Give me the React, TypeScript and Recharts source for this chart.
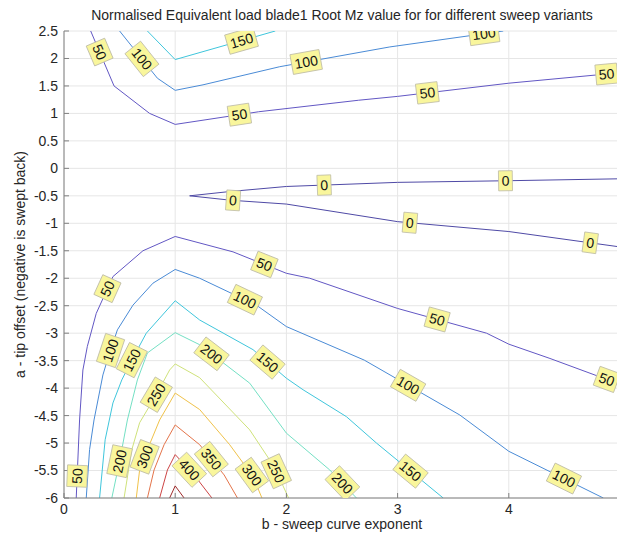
import {
  CartesianGrid, ComposedChart, Label, Line, Scatter, XAxis, YAxis,
} from "recharts";

type Pt = { x: number; y: number };

const pts = (rows: number[][]): Pt[] => rows.map(([x, y]) => ({ x, y }));

// axis ticks
const X_TICKS = [0, 1, 2, 3, 4];
const Y_TICKS = [2.5, 2, 1.5, 1, 0.5, 0, -0.5, -1, -1.5, -2, -2.5, -3, -3.5, -4, -4.5, -5, -5.5, -6];

// contour paths, (b, a) pairs
const c0 = pts([[5, -0.19], [4, -0.225], [3, -0.255], [2, -0.33], [1.5, -0.42], [1.13, -0.5],
  [1.5, -0.58], [2, -0.65], [3, -0.97], [4, -1.15], [5, -1.43]]);
const c50Upper = pts([[0.24, 2.5], [0.45, 1.5], [0.77, 1.0], [1, 0.8], [1.75, 1.03], [2.65, 1.24],
  [3, 1.31], [4, 1.55], [5, 1.74]]);
const c100Upper = pts([[0.5, 2.5], [0.84, 1.64], [1, 1.42], [1.25, 1.52], [1.94, 1.85], [2.93, 2.21], [3.95, 2.5]]);
const c150Upper = pts([[0.75, 2.5], [1, 1.98], [1.9, 2.5]]);
const c50Lower = pts([[0.11, -6], [0.14, -4.58], [0.17, -3.67], [0.21, -3.24], [0.29, -2.64], [0.44, -1.97],
  [0.71, -1.5], [1, -1.24], [1.52, -1.52], [2, -1.91], [2.21, -2.0], [3, -2.55], [3.8, -3.0], [4, -3.2],
  [4.37, -3.46], [5, -3.93]]);
const c100Lower = pts([[0.2, -6], [0.23, -5.12], [0.27, -4.58], [0.35, -3.76], [0.39, -3.49], [0.48, -2.94],
  [0.62, -2.49], [0.8, -2.09], [1, -1.84], [1.22, -2.0], [1.73, -2.49], [2, -2.88], [2.7, -3.49],
  [3.56, -4.49], [4, -5.15], [4.85, -6]]);
const c150Lower = pts([[0.32, -6], [0.37, -4.94], [0.44, -4.27], [0.52, -3.85], [0.61, -3.49], [0.74, -3.0],
  [1, -2.41], [1.22, -2.76], [1.7, -3.3], [2, -3.82], [2.15, -4.03], [2.54, -4.52], [2.81, -5.0], [3.41, -6]]);
const c200 = pts([[0.43, -6], [0.5, -5.33], [0.57, -4.58], [0.66, -3.85], [0.75, -3.36], [1, -2.99],
  [1.22, -3.21], [1.67, -3.91], [2, -4.82], [2.39, -5.49], [2.63, -6]]);
const c250 = pts([[0.54, -6], [0.61, -5.12], [0.68, -4.63], [0.83, -4.12], [0.95, -3.67], [1, -3.56],
  [1.22, -3.81], [1.67, -4.76], [1.89, -5.43], [2.02, -6]]);
const c300 = pts([[0.65, -6], [0.68, -5.49], [0.75, -5.12], [0.86, -4.58], [1, -4.09], [1.22, -4.39],
  [1.49, -5.03], [1.7, -5.61], [1.78, -6]]);
const c350 = pts([[0.75, -6], [0.81, -5.49], [0.9, -5.03], [1, -4.67], [1.22, -5.03], [1.44, -5.58], [1.56, -6]]);
const c400 = pts([[0.86, -6], [0.93, -5.49], [1, -5.21], [1.17, -5.58], [1.33, -6]]);
const c450 = pts([[0.95, -6], [1, -5.78], [1.08, -6]]);

const LEVEL_COLORS: Record<number, string> = {
  0: "#4f4aa6",
  50: "#6257c4",
  100: "#4a8bd6",
  150: "#3fc6dc",
  200: "#74e0c4",
  250: "#cfe27a",
  300: "#f0c24a",
  350: "#e4744a",
  400: "#cc4444",
  450: "#9e2b2b",
};

const contours: { key: string; level: number; points: Pt[] }[] = [
  { key: "c0", level: 0, points: c0 },
  { key: "c50Upper", level: 50, points: c50Upper },
  { key: "c100Upper", level: 100, points: c100Upper },
  { key: "c150Upper", level: 150, points: c150Upper },
  { key: "c50Lower", level: 50, points: c50Lower },
  { key: "c100Lower", level: 100, points: c100Lower },
  { key: "c150Lower", level: 150, points: c150Lower },
  { key: "c200", level: 200, points: c200 },
  { key: "c250", level: 250, points: c250 },
  { key: "c300", level: 300, points: c300 },
  { key: "c350", level: 350, points: c350 },
  { key: "c400", level: 400, points: c400 },
  { key: "c450", level: 450, points: c450 },
];

// clabel spots (approximate, snapped onto their contour below)
const labelSpots: { key: string; x: number; y: number }[] = [
  { key: "c50Upper", x: 0.29, y: 2.09 },
  { key: "c50Upper", x: 1.58, y: 0.94 },
  { key: "c50Upper", x: 3.27, y: 1.33 },
  { key: "c50Upper", x: 4.88, y: 1.7 },
  { key: "c100Upper", x: 0.65, y: 1.91 },
  { key: "c100Upper", x: 2.18, y: 1.91 },
  { key: "c100Upper", x: 3.78, y: 2.4 },
  { key: "c150Upper", x: 1.6, y: 2.3 },
  { key: "c0", x: 1.52, y: -0.6 },
  { key: "c0", x: 2.34, y: -0.33 },
  { key: "c0", x: 3.97, y: -0.22 },
  { key: "c0", x: 3.11, y: -1.01 },
  { key: "c0", x: 4.73, y: -1.39 },
  { key: "c50Lower", x: 0.38, y: -2.18 },
  { key: "c50Lower", x: 1.8, y: -1.76 },
  { key: "c50Lower", x: 3.35, y: -2.79 },
  { key: "c50Lower", x: 4.88, y: -3.85 },
  { key: "c50Lower", x: 0.11, y: -5.6 },
  { key: "c100Lower", x: 0.44, y: -3.33 },
  { key: "c100Lower", x: 1.62, y: -2.42 },
  { key: "c100Lower", x: 3.08, y: -4.0 },
  { key: "c100Lower", x: 4.49, y: -5.67 },
  { key: "c150Lower", x: 0.6, y: -3.48 },
  { key: "c150Lower", x: 1.85, y: -3.48 },
  { key: "c150Lower", x: 3.08, y: -5.6 },
  { key: "c200", x: 1.31, y: -3.42 },
  { key: "c200", x: 0.5, y: -5.33 },
  { key: "c200", x: 2.52, y: -5.7 },
  { key: "c250", x: 0.83, y: -4.12 },
  { key: "c250", x: 1.88, y: -5.54 },
  { key: "c300", x: 0.75, y: -5.27 },
  { key: "c300", x: 1.65, y: -5.64 },
  { key: "c350", x: 1.32, y: -5.3 },
  { key: "c400", x: 1.13, y: -5.48 },
];

const FONT = '"Liberation Sans", Arial, Helvetica, sans-serif';
const TEXT = "#262626";
const CHART_W = 640;
const CHART_H = 536;
const MARGIN = { top: 31, right: 20, bottom: 8, left: 0 };
const Y_AXIS_W = 64;
const X_AXIS_H = 30;
const X_DOMAIN: [number, number] = [0, 5];
const Y_DOMAIN: [number, number] = [-6, 2.5];

// pixels per data unit, used to orient the labels along their lines
const KX = (CHART_W - MARGIN.left - MARGIN.right - Y_AXIS_W) / (X_DOMAIN[1] - X_DOMAIN[0]);
const KY = (CHART_H - MARGIN.top - MARGIN.bottom - X_AXIS_H) / (Y_DOMAIN[1] - Y_DOMAIN[0]);

function snapToContour(points: Pt[], x: number, y: number) {
  const px = x * KX;
  const py = -y * KY;
  let best = { d: Infinity, x, y, angle: 0 };
  for (let i = 0; i < points.length - 1; i++) {
    const ax = points[i].x * KX, ay = -points[i].y * KY;
    const bx = points[i + 1].x * KX, by = -points[i + 1].y * KY;
    const dx = bx - ax, dy = by - ay;
    const len2 = dx * dx + dy * dy || 1;
    const t = Math.max(0, Math.min(1, ((px - ax) * dx + (py - ay) * dy) / len2));
    const qx = ax + t * dx, qy = ay + t * dy;
    const d = Math.hypot(px - qx, py - qy);
    if (d < best.d) {
      let angle = (Math.atan2(dy, dx) * 180) / Math.PI;
      if (angle > 90) angle -= 180;
      if (angle <= -90) angle += 180;
      best = { d, x: qx / KX, y: -qy / KY, angle };
    }
  }
  return best;
}

const labelData = labelSpots.map((s) => {
  const c = contours.find((k) => k.key === s.key)!;
  const p = snapToContour(c.points, s.x, s.y);
  return { x: p.x, y: p.y, angle: p.angle, level: c.level };
});

const ClabelShape = (props: any) => {
  const { cx, cy, payload } = props;
  if (cx == null || cy == null) return null;
  const txt = String(payload.level);
  const w = txt.length * 7.8 + 6;
  const h = 20;
  return (
    <g transform={`translate(${cx},${cy}) rotate(${payload.angle})`}>
      <rect x={-w / 2} y={-h / 2} width={w} height={h} fill="#f9f69c" stroke="#bdbba6" strokeWidth={0.8} />
      <text x={0} y={0} textAnchor="middle" dominantBaseline="central" fontSize={14}
        fontFamily={FONT} fill="#141414">{txt}</text>
    </g>
  );
};

export default function App() {
  return (
    <div style={{
      position: "absolute", left: 0, top: 0, width: 617, height: 536,
      overflow: "hidden", background: "#fff", fontFamily: FONT,
    }}>
      <div style={{
        position: "absolute", left: MARGIN.left + Y_AXIS_W, width: CHART_W - MARGIN.right - Y_AXIS_W,
        top: 7, lineHeight: "16px", textAlign: "center", fontSize: 14, color: TEXT, zIndex: 1,
      }}>
        Normalised Equivalent load blade1 Root Mz value for for different sweep variants
      </div>
      <ComposedChart width={CHART_W} height={CHART_H} margin={MARGIN}>
        <CartesianGrid stroke="#e6e6e6" strokeWidth={1} />
        <XAxis
          type="number" dataKey="x" domain={X_DOMAIN} ticks={X_TICKS} interval={0}
          allowDataOverflow height={X_AXIS_H} tickSize={-5} tickMargin={11}
          stroke="#808080" tick={{ fill: TEXT, fontSize: 14, fontFamily: FONT }}
        >
          <Label
            content={(p: any) => {
              const vb = p.viewBox || { x: 64, y: 498, width: 556, height: 30 };
              return (
                <text x={vb.x + vb.width / 2} y={vb.y + 26} textAnchor="middle" dominantBaseline="central"
                  fontSize={14} fontFamily={FONT} fill={TEXT}>b - sweep curve exponent</text>
              );
            }}
          />
        </XAxis>
        <YAxis
          type="number" dataKey="y" domain={Y_DOMAIN} ticks={Y_TICKS} interval={0}
          allowDataOverflow width={Y_AXIS_W} tickSize={-5} tickMargin={11}
          stroke="#808080" tick={{ fill: TEXT, fontSize: 14, fontFamily: FONT }}
        >
          <Label
            content={(p: any) => {
              const vb = p.viewBox || { x: 0, y: 31, width: 64, height: 467 };
              return (
                <text transform={`translate(${vb.x + 20},${vb.y + vb.height / 2}) rotate(-90)`}
                  textAnchor="middle" dominantBaseline="central" fontSize={14} fontFamily={FONT}
                  fill={TEXT}>a - tip offset (negative is swept back)</text>
              );
            }}
          />
        </YAxis>
        {contours.map((c) => (
          <Line
            key={c.key} data={c.points} dataKey="y" type="linear" stroke={LEVEL_COLORS[c.level]}
            strokeWidth={1} dot={false} activeDot={false} isAnimationActive={false}
          />
        ))}
        <Scatter data={labelData} dataKey="y" shape={ClabelShape} isAnimationActive={false} />
      </ComposedChart>
    </div>
  );
}
